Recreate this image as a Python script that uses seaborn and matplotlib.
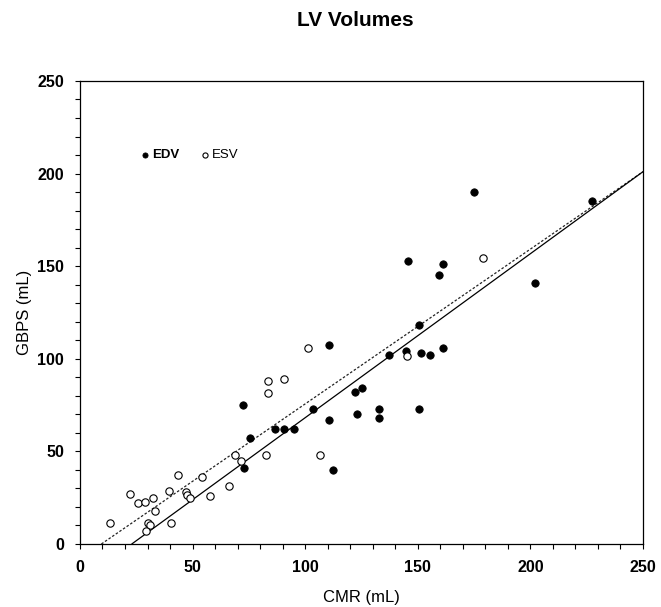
# LV volumes: GBPS vs CMR scatter with fitted lines
import matplotlib
matplotlib.use("Agg")
import matplotlib.pyplot as plt
import seaborn as sns
import pandas as pd
from matplotlib.ticker import MultipleLocator

# ------------------------------------------
# Data
# ------------------------------------------
edv_cmr = [175, 227.5, 202, 145.8, 161.2, 159.4, 150.7, 137.2, 144.6, 151.3,
           155.3, 161.3, 110.6, 72.2, 122.3, 125.2, 103.5, 110.6, 123.2, 132.8,
           132.8, 150.5, 75.6, 86.4, 90.6, 95, 72.8, 112.3]
edv_gbps = [190, 185, 141, 153, 151, 145, 118, 102, 104, 103,
            102, 106, 107.6, 75, 82, 84, 73, 67, 70, 73,
            68, 73, 57.3, 62.2, 62.3, 62.3, 41.1, 40.1]

esv_cmr = [178.8, 145.2, 101.4, 83.5, 90.6, 83.6, 69, 71.5, 82.7, 106.6,
           54, 13.3, 22.2, 25.9, 28.9, 32.4, 33.2, 30.3, 31, 29.3,
           39.7, 43.5, 40.4, 46.9, 47.4, 48.8, 57.7, 66.2]
esv_gbps = [154.6, 101.7, 105.7, 88, 89.1, 81.7, 48, 45, 48, 47.9,
            36.3, 11.2, 26.8, 22, 22.8, 24.8, 18, 11.2, 10.1, 7,
            28.6, 37.1, 11.2, 28.1, 26.6, 24.8, 25.9, 31.3]

# fitted lines (start where they cross 0, end at right edge)
edv_fit_x = [23, 250]
edv_fit_y = [0, 201]
esv_fit_x = [9.5, 250]
esv_fit_y = [0, 201]

edv = pd.DataFrame({"CMR": edv_cmr, "GBPS": edv_gbps})
esv = pd.DataFrame({"CMR": esv_cmr, "GBPS": esv_gbps})

# ------------------------------------------
# Plot
# ------------------------------------------
sns.set_style("ticks")
plt.rcParams["font.family"] = ["Liberation Sans", "DejaVu Sans"]
plt.rcParams["text.color"] = "black"
plt.rcParams["axes.labelcolor"] = "black"
plt.rcParams["xtick.color"] = "black"
plt.rcParams["ytick.color"] = "black"

fig = plt.figure(figsize=(6.61, 6.07), dpi=100)
ax = fig.add_axes([0.121, 0.1038, 0.8517, 0.7628])

sns.lineplot(x=esv_fit_x, y=esv_fit_y, ax=ax, color="#222222",
             linewidth=0.9, linestyle=(0, (2, 1.5)))
sns.lineplot(x=edv_fit_x, y=edv_fit_y, ax=ax, color="black", linewidth=0.9)

sns.scatterplot(data=edv, x="CMR", y="GBPS", ax=ax, s=28, color="black",
                edgecolor="black", linewidth=0.6, label="EDV", zorder=3)
sns.scatterplot(data=esv, x="CMR", y="GBPS", ax=ax, s=28, facecolor="white",
                edgecolor="black", linewidth=0.8, label="ESV", zorder=3)

ax.set_xlim(0, 250)
ax.set_ylim(0, 250)
ax.xaxis.set_major_locator(MultipleLocator(50))
ax.yaxis.set_major_locator(MultipleLocator(50))
ax.xaxis.set_minor_locator(MultipleLocator(10))
ax.yaxis.set_minor_locator(MultipleLocator(10))
ax.tick_params(which="both", direction="out", length=3.5, width=0.8,
               top=False, right=False)
ax.tick_params(axis="both", labelsize=11.5)
ax.tick_params(axis="y", pad=8)
ax.tick_params(axis="x", pad=8)
for lab in ax.get_xticklabels() + ax.get_yticklabels():
    lab.set_fontweight("bold")
for sp in ax.spines.values():
    sp.set_linewidth(0.9)
    sp.set_color("black")

ax.set_xlabel("CMR (mL)", fontsize=12, labelpad=11)
ax.set_ylabel("GBPS (mL)", fontsize=12, labelpad=4)
fig.suptitle("LV Volumes", fontsize=15, fontweight="bold", x=0.537, y=0.982)

leg = ax.legend(loc="center left", bbox_to_anchor=(0.087, 0.84), ncol=2,
                frameon=False, fontsize=9.5, handlelength=0.7,
                handletextpad=0.15, columnspacing=1.6, markerscale=0.7)
leg.get_texts()[0].set_fontweight("bold")

fig.savefig("out.png", dpi=100)
